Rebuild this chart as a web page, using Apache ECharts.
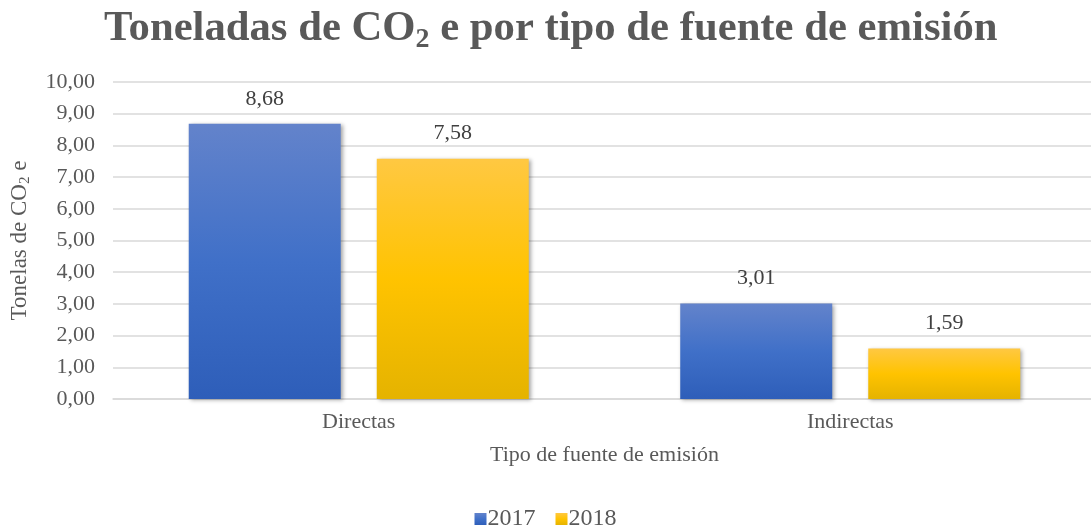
<!DOCTYPE html>
<html>
<head>
<meta charset="utf-8">
<script src="https://cdn.jsdelivr.net/npm/echarts@6/dist/echarts.min.js"></script>
<style>html,body{margin:0;padding:0;background:#fff}#c{width:1091px;height:529px}</style>
</head>
<body>
<div id="c"></div>
<script>
const categories = ['Directas', 'Indirectas'];
const seriesNames = ['2017', '2018'];
const values2017 = [8.68, 3.01];
const values2018 = [7.58, 1.59];
const yTicks = { min: 0, max: 10, interval: 1 };

const FONT = '"Liberation Serif", "Times New Roman", serif';
const TXT = '#595959';
const fmt = v => v.toFixed(2).replace('.', ',');

const blueGrad = new echarts.graphic.LinearGradient(0, 0, 0, 1, [
  { offset: 0, color: '#6383cb' },
  { offset: 0.5, color: '#4070c8' },
  { offset: 1, color: '#2e5eb9' }
]);
const yellowGrad = new echarts.graphic.LinearGradient(0, 0, 0, 1, [
  { offset: 0, color: '#ffc842' },
  { offset: 0.5, color: '#ffc300' },
  { offset: 1, color: '#e5b300' }
]);

const barCommon = {
  type: 'bar',
  barWidth: 152,
  barGap: '23.7%',
  label: {
    show: true, position: 'top', distance: 14,
    fontFamily: FONT, fontSize: 22, color: '#404040',
    formatter: p => fmt(p.value)
  }
};

const chart = echarts.init(document.getElementById('c'), null, { renderer: 'canvas' });
chart.setOption({
  animation: false,
  backgroundColor: '#fff',
  title: {
    text: 'Toneladas de CO{sub|2} e por tipo de fuente de emisión',
    left: 99, top: -1,
    textStyle: {
      fontFamily: FONT, fontSize: 42.7, fontWeight: 'bold', color: TXT, lineHeight: 50,
      rich: {
        sub: { fontFamily: FONT, fontSize: 28, fontWeight: 'bold', color: TXT, verticalAlign: 'bottom', lineHeight: 14 }
      }
    }
  },
  legend: {
    top: 502, left: 'center',
    itemWidth: 12, itemHeight: 12, itemGap: 20,
    icon: 'rect',
    textStyle: { fontFamily: FONT, fontSize: 24, color: TXT, padding: [0, 0, 0, -4] },
    data: seriesNames
  },
  grid: { left: 113, top: 82, width: 983, height: 317, containLabel: false, outerBoundsMode: 'none' },
  xAxis: {
    type: 'category',
    data: categories,
    axisLine: { show: true, lineStyle: { color: '#d9d9d9', width: 1.5 } },
    axisTick: { show: false },
    axisLabel: { fontFamily: FONT, fontSize: 22, color: TXT, margin: 12 },
    name: 'Tipo de fuente de emisión',
    nameLocation: 'middle', nameGap: 45,
    nameTextStyle: { fontFamily: FONT, fontSize: 22, color: TXT }
  },
  yAxis: {
    type: 'value',
    min: yTicks.min, max: yTicks.max, interval: yTicks.interval,
    axisLine: { show: false },
    axisTick: { show: false },
    splitLine: { lineStyle: { color: '#d9d9d9', width: 1.5 } },
    axisLabel: { fontFamily: FONT, fontSize: 22, color: TXT, margin: 18, formatter: v => fmt(v) },
    name: 'Tonelas de CO{s|2} e',
    nameLocation: 'middle', nameGap: 80, nameRotate: 90,
    nameTextStyle: {
      fontFamily: FONT, fontSize: 23, color: TXT, lineHeight: 26,
      rich: { s: { fontFamily: FONT, fontSize: 15, color: TXT, verticalAlign: 'bottom', lineHeight: 10 } }
    }
  },
  series: [
    Object.assign({}, barCommon, {
      name: seriesNames[0], data: values2017,
      itemStyle: { color: blueGrad, shadowBlur: 4, shadowColor: 'rgba(0,0,0,0.35)', shadowOffsetX: 2, shadowOffsetY: 1 }
    }),
    Object.assign({}, barCommon, {
      name: seriesNames[1], data: values2018,
      itemStyle: { color: yellowGrad, shadowBlur: 4, shadowColor: 'rgba(0,0,0,0.35)', shadowOffsetX: 2, shadowOffsetY: 1 }
    })
  ],
  color: ['#4472c4', '#ffc000']
});
</script>
</body>
</html>
